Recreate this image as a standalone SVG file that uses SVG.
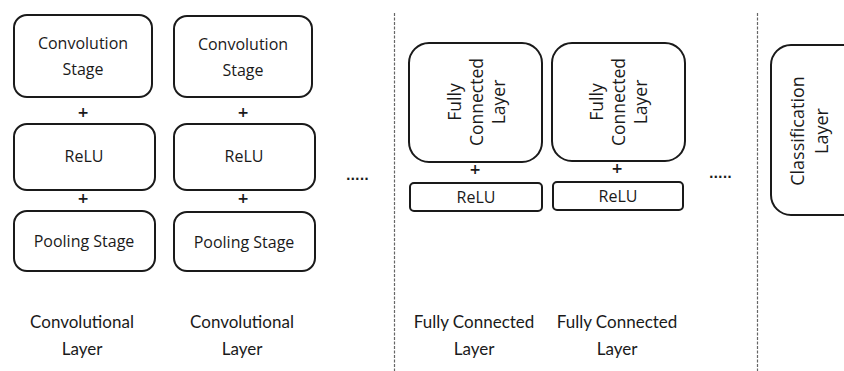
<svg xmlns="http://www.w3.org/2000/svg" width="844" height="371" viewBox="0 0 844 371">
  <style>
    .box { fill: #ffffff; stroke: #1a1a1a; stroke-width: 2; }
    .lbl { font-family: "Open Sans", "Noto Sans", sans-serif; font-size: 16px; fill: #1a1a1a; text-anchor: middle; }
    .vlbl { font-family: "Open Sans", "Noto Sans", sans-serif; font-size: 17.5px; fill: #1a1a1a; text-anchor: middle; }
    .clbl { font-family: "Open Sans", "Noto Sans", sans-serif; font-size: 18px; fill: #1a1a1a; text-anchor: middle; }
    .cap { font-family: Lato, "Open Sans", sans-serif; font-size: 17px; fill: #1a1a1a; text-anchor: middle; }
    .plus { font-family: "DejaVu Sans", sans-serif; font-size: 14px; font-weight: bold; fill: #1a1a1a; text-anchor: middle; }
    .dots { font-family: "DejaVu Sans", sans-serif; font-size: 12px; font-weight: bold; fill: #1a1a1a; }
    .sep { stroke: #666666; stroke-width: 1.2; stroke-dasharray: 3 1.5; fill: none; }
  </style>
  <rect width="844" height="371" fill="#ffffff"/>

  <!-- section separators, joins and continuation marks -->
  <g id="connectors">
    <line class="sep" x1="394.5" y1="13" x2="394.5" y2="371"/>
    <line class="sep" x1="757.5" y1="13" x2="757.5" y2="371"/>
    <text class="plus" x="83" y="117">+</text>
    <text class="plus" x="83" y="203">+</text>
    <text class="plus" x="243" y="117">+</text>
    <text class="plus" x="243" y="203">+</text>
    <text class="plus" x="475" y="174">+</text>
    <text class="plus" x="617" y="173">+</text>
    <text class="dots" x="346" y="180">.....</text>
    <text class="dots" x="709" y="178">.....</text>
  </g>

  <!-- convolutional layer 1 -->
  <g id="conv1">
    <rect class="box" x="14" y="15" width="138" height="82" rx="13"/>
    <text class="lbl" x="83" y="49">Convolution</text>
    <text class="lbl" x="83" y="75">Stage</text>
  </g>
  <g id="relu1">
    <rect class="box" x="14" y="124" width="141" height="66" rx="13"/>
    <text class="lbl" x="84" y="162">ReLU</text>
  </g>
  <g id="pool1">
    <rect class="box" x="14" y="211" width="141" height="60" rx="13"/>
    <text class="lbl" x="84" y="247">Pooling Stage</text>
  </g>

  <!-- convolutional layer 2 -->
  <g id="conv2">
    <rect class="box" x="174" y="16" width="138" height="81" rx="13"/>
    <text class="lbl" x="243" y="50">Convolution</text>
    <text class="lbl" x="243" y="76">Stage</text>
  </g>
  <g id="relu2">
    <rect class="box" x="174" y="124" width="141" height="66" rx="13"/>
    <text class="lbl" x="244" y="162">ReLU</text>
  </g>
  <g id="pool2">
    <rect class="box" x="174" y="212" width="141" height="59" rx="13"/>
    <text class="lbl" x="244" y="248">Pooling Stage</text>
  </g>

  <!-- fully connected layer 1 -->
  <g id="fc1">
    <rect class="box" x="409" y="43" width="133" height="119" rx="20"/>
    <g transform="translate(477 102) rotate(-90)">
      <text class="vlbl" x="0" y="-16">Fully</text>
      <text class="vlbl" x="0" y="6">Connected</text>
      <text class="vlbl" x="0" y="28">Layer</text>
    </g>
  </g>
  <g id="fcrelu1">
    <rect class="box" x="410" y="183" width="132" height="28" rx="4"/>
    <text class="lbl" x="476" y="202.5">ReLU</text>
  </g>

  <!-- fully connected layer 2 -->
  <g id="fc2">
    <rect class="box" x="552" y="43" width="133" height="118" rx="20"/>
    <g transform="translate(619 102) rotate(-90)">
      <text class="vlbl" x="0" y="-16">Fully</text>
      <text class="vlbl" x="0" y="6">Connected</text>
      <text class="vlbl" x="0" y="28">Layer</text>
    </g>
  </g>
  <g id="fcrelu2">
    <rect class="box" x="553" y="182" width="130" height="28" rx="4"/>
    <text class="lbl" x="618" y="201.5">ReLU</text>
  </g>

  <!-- classification layer -->
  <g id="classification">
    <rect class="box" x="771" y="45" width="100" height="170" rx="20"/>
    <g transform="translate(810 131) rotate(-90)">
      <text class="clbl" x="0" y="-6">Classification</text>
      <text class="clbl" x="0" y="18">Layer</text>
    </g>
  </g>

  <!-- captions -->
  <g id="captions">
    <text class="cap" x="82" y="328">Convolutional</text>
    <text class="cap" x="82" y="355">Layer</text>
    <text class="cap" x="242" y="328">Convolutional</text>
    <text class="cap" x="242" y="355">Layer</text>
    <text class="cap" x="474" y="328">Fully Connected</text>
    <text class="cap" x="474" y="355">Layer</text>
    <text class="cap" x="617" y="328">Fully Connected</text>
    <text class="cap" x="617" y="355">Layer</text>
  </g>
</svg>
